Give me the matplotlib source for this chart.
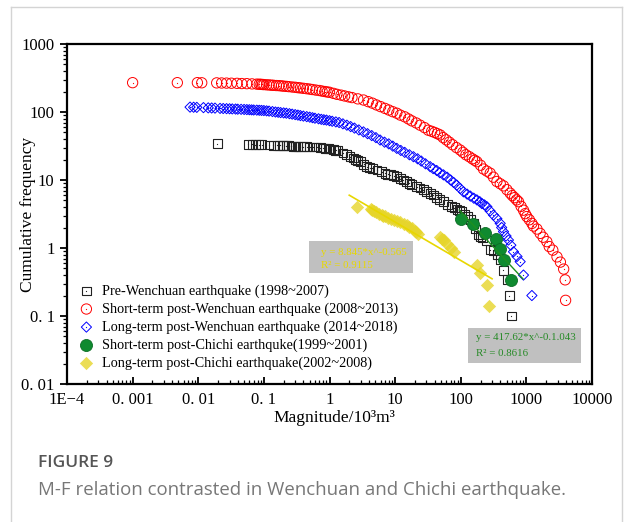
import matplotlib
matplotlib.use('Agg')
import matplotlib.pyplot as plt
from matplotlib.lines import Line2D
from matplotlib.patches import Rectangle
from matplotlib.ticker import LogLocator, NullFormatter
import numpy as np

# Pre-Wenchuan earthquake (1998~2007)
pre_x = [0.0195, 0.058, 0.066, 0.074, 0.083, 0.093, 0.12, 0.14, 0.16, 0.175, 0.19, 0.2, 0.22, 0.24,
         0.26, 0.28, 0.3, 0.33, 0.36, 0.4, 0.45, 0.5, 0.57, 0.64, 0.72, 0.8, 0.88, 0.96, 1.05, 1.15,
         1.25, 1.35, 1.6, 1.8, 2.06, 2.3, 2.5, 2.7, 2.93, 3.3, 3.7, 4.1, 4.5, 5.3, 6.2, 7.0, 7.7,
         8.4, 9.5, 10.6, 12, 13.4, 15.1, 16.5, 18, 21.4, 24, 27, 30, 34.2, 38, 43, 48, 54.5, 63,
         73, 80, 88, 95, 104, 115, 125, 140, 156, 170, 186, 200, 215, 250, 281, 315, 360, 399, 448,
         505, 552, 587]
pre_y = [34, 33.5, 33.3, 33, 33, 33, 32.7, 32.5, 32.5, 32.5, 32.2, 32, 32, 32,
         31.7, 31.5, 31.2, 31, 31, 31, 30.7, 30.5, 30.5, 30.5, 30, 29.5, 29.2, 29, 28.5, 28,
         27.5, 27, 25, 23.5, 22, 21, 20, 19.3, 18.6, 17, 15.7, 15.2, 14.8, 14, 13.3, 12.6, 12.2,
         11.9, 11.5, 11.2, 10.5, 10, 9.4, 9, 8.6, 8, 7.6, 7.2, 6.8, 6.4, 6, 5.6, 5.2, 4.8, 4.4,
         4.05, 3.9, 3.7, 3.55, 3.4, 3.1, 2.9, 2.6, 2.3, 1.9, 1.55, 1.47, 1.4, 1.3, 0.95, 0.93, 0.8,
         0.67, 0.47, 0.34, 0.2, 0.1]

# Short-term post-Wenchuan earthquake (2008~2013)
short_x = [0.001, 0.0048, 0.0097, 0.0113, 0.0191, 0.0227, 0.027, 0.032, 0.039, 0.046, 0.055, 0.066,
           0.078, 0.085, 0.09, 0.095, 0.1, 0.11, 0.12, 0.13, 0.14, 0.155, 0.17, 0.185, 0.2, 0.22,
           0.24, 0.27, 0.3, 0.33, 0.36, 0.4, 0.45, 0.5, 0.55, 0.62, 0.7, 0.77, 0.85, 0.92, 1.0,
           1.15, 1.3, 1.5, 1.7, 1.95, 2.2, 2.7, 3.3, 3.9, 4.5, 5.2, 6, 7, 8, 9.2, 10.6, 12, 14, 16,
           18, 21, 24, 28, 32, 36, 40, 44, 48.5, 54, 60, 67, 75, 86, 98, 108, 120, 135, 150, 163,
           176, 200, 222, 250, 281, 315, 355, 400, 448, 505, 566, 610, 660, 710, 759, 830, 903,
           960, 1015, 1110, 1213, 1282, 1450, 1622, 1800, 2050, 2230, 2530, 2930, 3300, 3700, 3900,
           3960]
short_y = [270, 270, 270, 269, 268, 267, 266, 265, 264, 262, 261, 259,
           257, 256, 255, 254, 253, 251, 250, 248, 247, 245, 244, 242, 240, 238,
           236, 233, 231, 228, 226, 223, 220, 217, 214, 210, 207, 203, 200, 197, 195,
           188, 182, 177, 172, 167, 163, 156, 150, 142, 135, 127, 120, 113, 107, 101, 96, 90, 85, 79,
           74, 69, 64, 59, 54, 52, 50, 48, 46, 42, 39, 36, 33, 30, 27.6, 25.5, 23.5, 22, 20.5, 19.5,
           18.6, 16.5, 14.5, 13.5, 12.6, 11, 9.5, 8.8, 8.2, 7.2, 6.4, 5.9, 5.5, 5.1, 4.8, 4.1, 3.6,
           3.2, 2.9, 2.6, 2.3, 2.1, 1.9, 1.64, 1.44, 1.24, 1.05, 0.93, 0.74, 0.62, 0.49, 0.34,
           0.17]

# Long-term post-Wenchuan earthquake (2014~2018)
long_x = [0.0075, 0.0085, 0.0095, 0.012, 0.0142, 0.016, 0.018, 0.0215, 0.024, 0.027, 0.03, 0.033,
          0.037, 0.04, 0.045, 0.05, 0.055, 0.06, 0.065, 0.07, 0.078, 0.085, 0.092, 0.1, 0.11, 0.12,
          0.135, 0.15, 0.165, 0.18, 0.2, 0.22, 0.245, 0.27, 0.3, 0.33, 0.36, 0.4, 0.45, 0.5, 0.55,
          0.6, 0.68, 0.75, 0.82, 0.9, 1.0, 1.1, 1.25, 1.4, 1.6, 1.84, 2.1, 2.4, 2.8, 3.29, 3.8, 4.4,
          5.1, 5.9, 6.9, 8, 9.2, 10.6, 12.2, 14, 16.5, 19, 22, 25, 29, 34.2, 38, 43, 48, 54.5, 62,
          70, 78, 87, 98, 110, 125, 140, 158, 176, 195, 210, 230, 250, 280, 315, 355, 399, 420, 448,
          490, 533, 580, 636, 720, 804, 903, 1213]
long_y = [118, 117.5, 117, 116, 115, 114.5, 114, 113, 112.5, 112, 111.5, 111,
          110.5, 110, 109.5, 109, 108.5, 108, 107.5, 107, 106.5, 106, 105.5, 105, 104, 103,
          101.5, 100, 99, 98, 97, 96, 94.5, 93, 91.5, 90, 88.5, 87, 85.5, 84, 82.5,
          81, 79.5, 78, 77, 76, 74.5, 73, 71.5, 70, 67, 64, 61, 58, 54.5, 51, 48, 45,
          42, 38.7, 36, 34, 31.5, 29.2, 27.2, 25.5, 23.5, 22, 20.5, 19, 17.3, 15.7, 14.7, 13.8, 12.8,
          11.9, 11, 10, 9.2, 8.4, 7.5, 6.7, 6.2, 5.8, 5.4, 5.1, 4.8, 4.5, 4.3, 4.05, 3.5, 3.05, 2.7,
          2.3, 2.0, 1.74, 1.5, 1.31, 1.1, 0.88, 0.75, 0.63, 0.4, 0.2]

# Short-term post-Chichi earthquke (1999~2001)
chichi_s_x = [101, 155, 235, 347, 398, 460, 588]
chichi_s_y = [2.64, 2.23, 1.69, 1.34, 0.98, 0.67, 0.34]

# Long-term post-Chichi earthquake (2002~2008)
chichi_l_x = [2.6, 4.3, 4.5, 4.7, 5.1, 5.6, 6.2, 6.6, 7.0, 7.8, 8.8, 9.5, 10.5, 12, 13.5, 15, 16,
              18, 20, 21, 22, 48, 52, 55, 62, 70, 78, 175, 195, 250, 265]
chichi_l_y = [4.0, 3.7, 3.6, 3.45, 3.35, 3.2, 3.1, 3.0, 2.95, 2.8, 2.7, 2.6, 2.5, 2.4, 2.25, 2.15,
              2.05, 1.95, 1.8, 1.7, 1.6, 1.45, 1.35, 1.3, 1.15, 1.0, 0.86, 0.57, 0.43, 0.29, 0.14]

# power-law fits printed on the chart
fit_green = (417.62, -1.043)
fit_green_range = (95, 890)
fit_yellow = (8.845, -0.565)
fit_yellow_range = (2.0, 300)

x_ticks = [1e-4, 1e-3, 1e-2, 1e-1, 1, 10, 100, 1000, 10000]
x_labels = ['1E\u22124', '0. 001', '0. 01', '0. 1', '1', '10', '100', '1000', '10000']
y_ticks = [0.01, 0.1, 1, 10, 100, 1000]
y_labels = ['0. 01', '0. 1', '1', '10', '100', '1000']

legend_labels = ['Pre-Wenchuan earthquake (1998~2007)',
                 'Short-term post-Wenchuan earthquake (2008~2013)',
                 'Long-term post-Wenchuan earthquake (2014~2018)',
                 'Short-term post-Chichi earthquke(1999~2001)',
                 'Long-term post-Chichi earthquake(2002~2008)']

W, H = 624, 522


def fx(px):
    return px / W


def fy(py):
    return 1 - py / H


def main():
    plt.rcParams['font.family'] = ['Liberation Serif', 'DejaVu Serif']
    fig = plt.figure(figsize=(W / 100, H / 100), dpi=100)
    ax = fig.add_axes([fx(67), fy(384), (592 - 67) / W, (384 - 44) / H])

    # card border
    border = '#d4d4d4'
    fig.add_artist(Line2D([fx(11), fx(11)], [0, fy(7)], transform=fig.transFigure, color=border, lw=1))
    fig.add_artist(Line2D([fx(11), fx(622)], [fy(7), fy(7)], transform=fig.transFigure, color=border, lw=1))
    fig.add_artist(Line2D([fx(622), fx(622)], [0, fy(7)], transform=fig.transFigure, color=border, lw=1))

    handles = []
    h = ax.scatter(pre_x, pre_y, s=40, marker='s', facecolors='none', edgecolors='#222222', linewidths=0.8, zorder=3)
    d = ax.scatter(pre_x, pre_y, s=0.8, marker='o', color='#222222', linewidths=0, zorder=3)
    handles.append((h, d))
    h = ax.scatter(short_x, short_y, s=55, marker='o', facecolors='none', edgecolors='#ff0000', linewidths=0.7, zorder=3)
    d = ax.scatter(short_x, short_y, s=0.8, marker='o', color='#ff0000', linewidths=0, zorder=3)
    handles.append((h, d))
    h = ax.scatter(long_x, long_y, s=27, marker='D', facecolors='none', edgecolors='#0000ff', linewidths=0.7, zorder=3)
    d = ax.scatter(long_x, long_y, s=0.8, marker='o', color='#0000ff', linewidths=0, zorder=3)
    handles.append((h, d))
    h = ax.scatter(chichi_s_x, chichi_s_y, s=75, marker='o', color='#0f8a30', edgecolors='#0b6e25', linewidths=0.6, zorder=4)
    handles.append(h)
    h = ax.scatter(chichi_l_x, chichi_l_y, s=46, marker='D', color='#e6d52a', alpha=0.8, linewidths=0, zorder=4)
    handles.append(h)

    gx = np.array(fit_green_range)
    ax.plot(gx, fit_green[0] * gx ** fit_green[1], color='#1f8f1f', lw=1.0, zorder=5)
    yx = np.array(fit_yellow_range)
    ax.plot(yx, fit_yellow[0] * yx ** fit_yellow[1], color='#e8d700', lw=1.2, zorder=5)

    ax.set_xscale('log')
    ax.set_yscale('log')
    ax.set_xlim(1e-4, 1e4)
    ax.set_ylim(0.01, 1000)
    ax.set_xticks(x_ticks, x_labels)
    ax.set_yticks(y_ticks, y_labels)
    ax.xaxis.set_minor_locator(LogLocator(base=10, subs=np.arange(2, 10), numticks=100))
    ax.yaxis.set_minor_locator(LogLocator(base=10, subs=np.arange(2, 10), numticks=100))
    ax.xaxis.set_minor_formatter(NullFormatter())
    ax.yaxis.set_minor_formatter(NullFormatter())
    ax.tick_params(axis='x', which='both', direction='in', top=False, labelsize=12, pad=6)
    ax.tick_params(axis='y', which='both', direction='out', right=False, labelsize=12, pad=4)
    ax.tick_params(which='major', length=5, width=1.3)
    ax.tick_params(which='minor', length=3, width=0.9)
    for s in ax.spines.values():
        s.set_linewidth(1.6)

    fig.text(fx(28), fy(214), 'Cumulative frequency', rotation=90, ha='center', va='center', fontsize=12.5)
    fig.text(fx(334), fy(418), 'Magnitude/10\u00b3m\u00b3', ha='center', va='center', fontsize=12.5)

    ax.legend(handles, legend_labels, loc='upper left', bbox_to_anchor=(0.007, 0.314), frameon=False,
              fontsize=10.3, borderpad=0, labelspacing=0.32, handlelength=1.2, handletextpad=0.5,
              scatterpoints=1)

    # fit equation boxes
    fig.add_artist(Rectangle((fx(309), fy(273)), (413 - 309) / W, (273 - 241) / H,
                             transform=fig.transFigure, facecolor='#c0c0c0', edgecolor='none'))
    fig.text(fx(321), fy(252), 'y = 8.845*x^-0.565', color='#e8d800', fontsize=7.8, va='center')
    fig.text(fx(321), fy(266), 'R\u00b2 = 0.9115', color='#e8d800', fontsize=7.8, va='center')
    fig.add_artist(Rectangle((fx(468), fy(363)), (581 - 468) / W, (363 - 328) / H,
                             transform=fig.transFigure, facecolor='#c0c0c0', edgecolor='none'))
    fig.text(fx(476), fy(338), 'y = 417.62*x^-0.1.043', color='#268a26', fontsize=7.8, va='center')
    fig.text(fx(476), fy(353), 'R\u00b2 = 0.8616', color='#268a26', fontsize=7.8, va='center')

    fig.text(fx(38), fy(463), 'FIGURE 9', family='Open Sans', weight='semibold', color='#555555',
             fontsize=12.5, va='center')
    fig.text(fx(38), fy(490), 'M-F relation contrasted in Wenchuan and Chichi earthquake.',
             family='Open Sans', color='#777777', fontsize=13.4, va='center')

    fig.savefig('out.png', dpi=100)


if __name__ == "__main__":
    main()
